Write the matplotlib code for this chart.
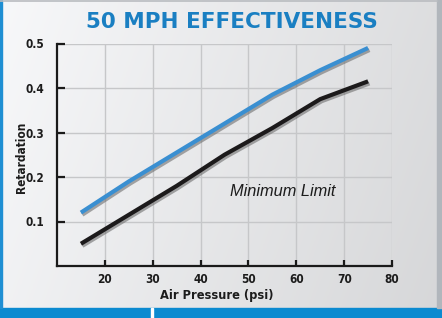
import numpy as np
import matplotlib
matplotlib.use("Agg")
import matplotlib.pyplot as plt
import matplotlib.patheffects as pe

# ---- data ----
pressure = [15, 25, 35, 45, 55, 65, 75]
effectiveness = [0.12, 0.19, 0.255, 0.32, 0.385, 0.44, 0.49]
minimum_limit = [0.05, 0.115, 0.18, 0.25, 0.31, 0.375, 0.415]
x_ticks = [20, 30, 40, 50, 60, 70, 80]
y_ticks = [0.1, 0.2, 0.3, 0.4, 0.5]
title = "50 MPH EFFECTIVENESS"
xlabel = "Air Pressure (psi)"
ylabel = "Retardation"
annot = "Minimum Limit"

W, H = 442, 318
fig = plt.figure(figsize=(W/100, H/100), dpi=100)

# background panel
bg = fig.add_axes([0, 0, 1, 1])
bg.set_xlim(0, W); bg.set_ylim(H, 0); bg.axis("off")
xx = np.linspace(0, 1, 200)
yy = np.linspace(0, 1, 100)
X, Y = np.meshgrid(xx, yy)
g = 0.97 - 0.13 * (0.8 * X + 0.2 * Y)
img = np.dstack([g, g + 0.003, g + 0.01])
img = np.clip(img, 0, 1)
bg.imshow(img, extent=[0, W, 308, 0], aspect="auto", zorder=0)
bg.add_patch(plt.Rectangle((0, 308), W, 10, color="#0b8ad0", zorder=1))
bg.add_patch(plt.Rectangle((150.5, 308), 2, 10, color="white", zorder=2))
bg.add_patch(plt.Rectangle((0, 0), 2.2, 308, color="#1f8fd3", zorder=2))
bg.add_patch(plt.Rectangle((437, 0), 5, 308, color="#b1b6bc", zorder=2))
bg.plot([0, 437], [1.2, 1.2], color="#b9bcc0", lw=1.2, zorder=2)

ax = fig.add_axes([57/W, 1 - 266/H, (392-57)/W, (266-43.5)/H])
ax.patch.set_alpha(0)
ax.set_xlim(10, 80)
ax.set_ylim(0, 0.5)

for xv in x_ticks:
    ax.axvline(xv, color="#c6c7c9", lw=1.0, zorder=1)
for yv in y_ticks:
    ax.axhline(yv, color="#c6c7c9", lw=1.0, zorder=1)

shadow = [pe.SimpleLineShadow(offset=(1.0, -1.5), shadow_color="#6e6e6e", alpha=0.6), pe.Normal()]
ax.plot(pressure, effectiveness, color="#3a8fd1", lw=3.0, solid_capstyle="butt",
        path_effects=shadow, zorder=4)
ax.plot(pressure, minimum_limit, color="#1c1a1b", lw=3.0, solid_capstyle="butt",
        path_effects=shadow, zorder=4)

ax.text(57.1, 0.168, annot, fontsize=11.8, style="italic", family="Liberation Sans",
        color="#1c1c1c", ha="center", va="center")

for s in ["top", "right"]:
    ax.spines[s].set_visible(False)
for s in ["left", "bottom"]:
    ax.spines[s].set_linewidth(1.6)
    ax.spines[s].set_color("#1a1a1a")

ax.set_xticks(x_ticks)
ax.set_yticks(y_ticks)
ax.set_xticklabels([str(v) for v in x_ticks])
ax.set_yticklabels([f"{v:.1f}" for v in y_ticks])
ax.tick_params(axis="x", direction="in", length=4, width=1.6, pad=5, color="#1a1a1a")
ax.tick_params(axis="y", direction="in", length=6, width=1.6, pad=9, color="#1a1a1a")
for lab in ax.get_xticklabels() + ax.get_yticklabels():
    lab.set_family("DejaVu Sans")
    lab.set_fontstretch("condensed")
    lab.set_fontweight("bold")
    lab.set_fontsize(8.5)
    lab.set_color("#1c1c1c")

fig.text(21/W, 1 - 157/H, ylabel, rotation=90, family="DejaVu Sans", fontstretch="condensed",
         fontweight="bold", fontsize=8.5, color="#1c1c1c", ha="center", va="center")
fig.text(217/W, 1 - 295/H, xlabel, family="DejaVu Sans", fontstretch="condensed",
         fontweight="bold", fontsize=9.2, color="#1c1c1c", ha="center", va="center")
fig.text(232/W, 1 - 22/H, title, family="DejaVu Sans", fontweight="bold",
         fontsize=15.5, color="#1a7fc2", ha="center", va="center")

fig.savefig("out.png", dpi=100)
